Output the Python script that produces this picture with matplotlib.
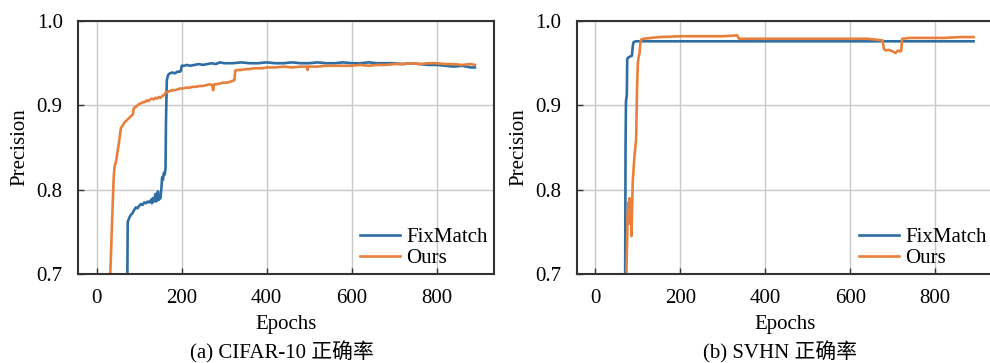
#1: import library
import matplotlib
matplotlib.use('Agg')
import matplotlib.pyplot as plt

#2: data (epoch, precision)
# (a) CIFAR-10
ep_fm_a = [0, 70, 73, 76, 80, 84, 88, 92, 96, 100, 104, 108, 112, 116, 120, 124, 128, 130,
           132, 134, 136, 138, 140, 142, 144, 146, 148, 150, 152, 154, 156, 158, 160, 162,
           163, 165, 168, 172, 178, 184, 190, 196, 198, 200, 206, 212, 220, 230, 240, 250,
           260, 270, 280, 290, 300, 320, 340, 360, 380, 400, 420, 440, 460, 480, 500, 520,
           540, 560, 580, 600, 620, 640, 660, 680, 700, 720, 740, 760, 780, 800, 820, 840,
           860, 870, 880, 890]
pr_fm_a = [0.10, 0.55, 0.762, 0.766, 0.770, 0.772, 0.776, 0.779, 0.778, 0.781, 0.783, 0.782,
           0.785, 0.784, 0.786, 0.785, 0.788, 0.784, 0.790, 0.786, 0.787, 0.795, 0.786, 0.789,
           0.798, 0.788, 0.789, 0.790, 0.800, 0.815, 0.812, 0.820, 0.818, 0.826, 0.880, 0.930,
           0.936, 0.938, 0.939, 0.938, 0.940, 0.940, 0.941, 0.947, 0.947, 0.948, 0.947, 0.948,
           0.949, 0.948, 0.949, 0.950, 0.949, 0.951, 0.950, 0.950, 0.951, 0.950, 0.950, 0.951,
           0.950, 0.950, 0.951, 0.950, 0.950, 0.951, 0.950, 0.950, 0.951, 0.950, 0.950, 0.951,
           0.950, 0.950, 0.950, 0.949, 0.950, 0.949, 0.948, 0.948, 0.947, 0.946, 0.947, 0.946,
           0.945, 0.945]

ep_ou_a = [0, 30, 32, 36, 40, 42, 46, 50, 54, 57, 62, 66, 70, 74, 78, 82, 85, 87, 90, 94,
           98, 102, 106, 110, 114, 118, 122, 126, 130, 134, 138, 142, 146, 150, 154, 158,
           162, 166, 172, 178, 184, 190, 196, 202, 210, 218, 226, 234, 242, 250, 258, 266,
           272, 274, 276, 282, 290, 298, 306, 314, 320, 324, 326, 330, 340, 350, 360, 370,
           380, 390, 400, 420, 440, 460, 480, 494, 496, 498, 520, 540, 560, 580, 600, 620,
           640, 660, 680, 700, 720, 740, 760, 780, 800, 820, 840, 860, 880, 890]
pr_ou_a = [0.10, 0.60, 0.70, 0.76, 0.815, 0.827, 0.835, 0.848, 0.862, 0.873, 0.877, 0.880,
           0.882, 0.884, 0.886, 0.888, 0.889, 0.896, 0.898, 0.899, 0.901, 0.902, 0.903, 0.904,
           0.904, 0.906, 0.905, 0.907, 0.908, 0.907, 0.909, 0.908, 0.910, 0.909, 0.911, 0.912,
           0.915, 0.916, 0.917, 0.918, 0.918, 0.919, 0.920, 0.920, 0.921, 0.921, 0.922, 0.922,
           0.923, 0.923, 0.924, 0.925, 0.924, 0.918, 0.925, 0.925, 0.926, 0.927, 0.927, 0.928,
           0.929, 0.930, 0.941, 0.942, 0.942, 0.943, 0.943, 0.944, 0.944, 0.944, 0.945, 0.945,
           0.946, 0.945, 0.946, 0.946, 0.942, 0.946, 0.946, 0.947, 0.947, 0.947, 0.947, 0.948,
           0.947, 0.948, 0.948, 0.949, 0.949, 0.950, 0.949, 0.950, 0.950, 0.949, 0.949, 0.948,
           0.949, 0.948]

# (b) SVHN
ep_fm_b = [0, 69, 71, 72, 74, 75, 78, 82, 86, 88, 90, 95, 110, 150, 200, 300, 400, 500,
           600, 700, 800, 890]
pr_fm_b = [0.10, 0.50, 0.85, 0.905, 0.912, 0.955, 0.957, 0.958, 0.959, 0.970, 0.975, 0.976,
           0.976, 0.976, 0.976, 0.976, 0.976, 0.976, 0.976, 0.976, 0.976, 0.976]

ep_ou_b = [0, 71, 73, 76, 78, 79, 80, 81, 82, 83, 84, 85, 86, 88, 90, 92, 94, 96, 98, 100,
           102, 104, 106, 108, 114, 130, 150, 200, 250, 300, 334, 338, 380, 450, 500, 550,
           600, 640, 660, 676, 679, 684, 690, 700, 706, 712, 718, 720, 722, 740, 780, 820,
           860, 890]
pr_ou_b = [0.10, 0.55, 0.70, 0.77, 0.785, 0.760, 0.790, 0.770, 0.760, 0.780, 0.770, 0.745,
           0.770, 0.810, 0.825, 0.840, 0.850, 0.860, 0.920, 0.950, 0.958, 0.962, 0.975, 0.978,
           0.979, 0.980, 0.981, 0.982, 0.982, 0.982, 0.983, 0.979, 0.979, 0.979, 0.979, 0.979,
           0.979, 0.979, 0.978, 0.977, 0.967, 0.965, 0.966, 0.964, 0.962, 0.965, 0.964, 0.965,
           0.979, 0.980, 0.980, 0.980, 0.981, 0.981]

labels = ['FixMatch', 'Ours']
captions = ['(a) CIFAR-10 正确率', '(b) SVHN 正确率']
yticks = [0.7, 0.8, 0.9, 1.0]
xticks = [0, 200, 400, 600, 800]

blue = '#2e6ea3'
orange = '#e8803c'

#3: fonts
plt.rcParams['font.family'] = ['Liberation Serif', 'Noto Sans CJK SC']
plt.rcParams['font.size'] = 15

#4: figure with two panels
fig = plt.figure(figsize=(9.9, 3.63), dpi=100)
ax1 = fig.add_axes([0.0788, 0.245, 0.4202, 0.697])
ax2 = fig.add_axes([0.5825, 0.245, 0.4202, 0.697])

panels = [(ax1, ep_fm_a, pr_fm_a, ep_ou_a, pr_ou_a),
          (ax2, ep_fm_b, pr_fm_b, ep_ou_b, pr_ou_b)]

for ax, e1, p1, e2, p2 in panels:
    ax.plot(e1, p1, color=blue, lw=1.9, label=labels[0])
    ax.plot(e2, p2, color=orange, lw=1.9, label=labels[1])
    ax.set_xlim(-44, 935)
    ax.set_ylim(0.7, 1.0)
    ax.set_xticks(xticks)
    ax.set_yticks(yticks)
    ax.set_yticklabels(['%.1f' % v for v in yticks])
    ax.grid(True, color='#c8c8c8', lw=1)
    ax.set_axisbelow(True)
    ax.tick_params(direction='in', length=4, width=1, color='#333333', pad=11)
    for s in ax.spines.values():
        s.set_color('#333333')
        s.set_linewidth(1.5)
    ax.set_xlabel('Epochs', labelpad=5)
    ax.set_ylabel('Precision', labelpad=5)
    ax.legend(loc='lower right', frameon=False, handlelength=1.9, handletextpad=0.3,
              labelspacing=0.05, borderaxespad=0.0, borderpad=0.3, fontsize=15)

fig.text(0.285, 0.03, captions[0], ha='center', va='center', fontsize=15)
fig.text(0.788, 0.03, captions[1], ha='center', va='center', fontsize=15)

fig.savefig('out.png', dpi=100)
